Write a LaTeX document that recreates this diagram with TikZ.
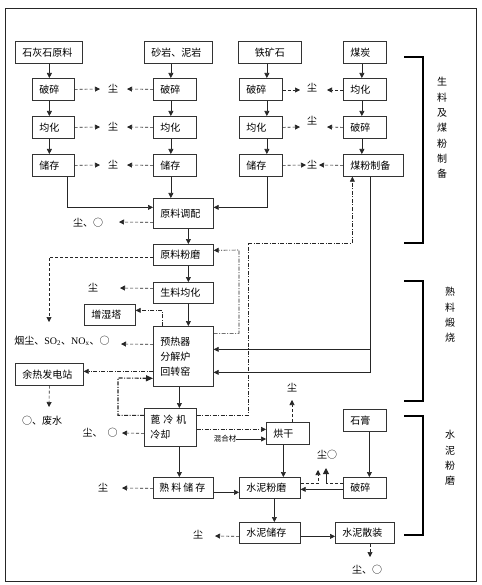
\documentclass[tikz,border=0pt]{standalone}
\usepackage{fontspec}
\setmainfont{Noto Sans CJK SC}
\newfontfamily\lat{Liberation Serif}
\usetikzlibrary{arrows.meta}
\begin{document}
\begin{tikzpicture}[x=1pt,y=-1pt,
 box/.style={draw=black!80, line width=0.7pt, inner xsep=7pt, inner ysep=0pt, anchor=north west, align=left, font=\fontsize{10}{15}\selectfont},
 cbox/.style={box, align=center},
 lbl/.style={inner sep=0pt, font=\fontsize{10}{12}\selectfont},
 vlbl/.style={inner sep=0pt, align=center, font=\fontsize{10}{15.3}\selectfont},
 con/.style={draw=black!85, line width=0.6pt},
 arr/.style={con, -{Triangle[length=5pt,width=5pt]}},
 dsh/.style={dash pattern=on 3pt off 2pt},
 dd/.style={dash pattern=on 4pt off 1.5pt on 1pt off 1.5pt},
 brk/.style={line width=1.8pt, draw=black}
]
\useasboundingbox (0,0) rectangle (481,585);
\fill[white] (0,0) rectangle (481,585);
\draw[line width=0.8pt, black!85] (5,8) rectangle (476,581);

% ---- row 1
\node[box, text width=53pt, minimum height=22pt] (raw1) at (15,41) {石灰石原料};
\node[box, text width=54pt, minimum height=22pt] (raw2) at (144,41) {砂岩、泥岩};
\node[cbox, text width=49pt, minimum height=22pt] (raw3) at (238,41) {铁矿石};
\node[box, text width=29pt, minimum height=22pt] (raw4) at (343,41) {煤炭};
% ---- row 2
\node[box, text width=28pt, minimum height=22pt] (a2) at (32,78) {破碎};
\node[box, text width=29pt, minimum height=22pt] (b2) at (153,78) {破碎};
\node[box, text width=29pt, minimum height=22pt] (c2) at (239,78) {破碎};
\node[box, text width=29pt, minimum height=22pt] (d2) at (343,78) {均化};
% ---- row 3
\node[box, text width=28pt, minimum height=22pt] (a3) at (32,116) {均化};
\node[box, text width=29pt, minimum height=22pt] (b3) at (153,116) {均化};
\node[box, text width=29pt, minimum height=22pt] (c3) at (239,116) {均化};
\node[box, text width=29pt, minimum height=22pt] (d3) at (343,116) {破碎};
% ---- row 4
\node[box, text width=28pt, minimum height=22pt] (a4) at (32,154) {储存};
\node[box, text width=29pt, minimum height=22pt] (b4) at (153,154) {储存};
\node[box, text width=29pt, minimum height=22pt] (c4) at (239,154) {储存};
\node[box, text width=46pt, minimum height=22pt] (d4) at (343,154) {煤粉制备};
% ---- main line
\node[box, text width=46pt, minimum height=30pt] (mix) at (153,198) {原料调配};
\node[box, text width=46pt, minimum height=21pt] (mill) at (153,244) {原料粉磨};
\node[box, text width=46pt, minimum height=21pt] (homo) at (153,282) {生料均化};
\node[box, text width=37pt, minimum height=21pt] (hum) at (84,304) {增湿塔};
\node[box, text width=46pt, minimum height=60pt] (kiln) at (153,326) {预热器\\分解炉\\回转窑};
\node[box, text width=54pt, minimum height=22pt] (whr) at (15,363) {余热发电站};
\node[box, inner xsep=6pt, text width=40pt, minimum height=38pt] (cool) at (144,408) {蓖\hspace{3pt}冷\hspace{3pt}机\\冷却};
\node[box, text width=29pt, minimum height=22pt] (dry) at (266,422) {烘干};
\node[box, text width=29pt, minimum height=22pt] (gyp) at (343,409) {石膏};
\node[box, inner xsep=6pt, text width=48pt, minimum height=21pt] (clst) at (153,477) {熟\hspace{2pt}料\hspace{2pt}储\hspace{2pt}存};
\node[box, text width=47pt, minimum height=21pt] (cmill) at (239,477) {水泥粉磨};
\node[box, text width=29pt, minimum height=21pt] (crush) at (343,477) {破碎};
\node[box, text width=47pt, minimum height=21pt] (cst) at (239,522) {水泥储存};
\node[box, text width=45pt, minimum height=21pt] (bulk) at (335,522) {水泥散装};

% ---- labels
\node[lbl] (s1) at (113,89) {尘};
\node[lbl] (s2) at (113,127) {尘};
\node[lbl] (s3) at (113,165) {尘};
\node[lbl] (s4) at (312,88) {尘};
\node[lbl] (s5) at (312,121) {尘};
\node[lbl] (s6) at (312,165) {尘};
\node[lbl] (smix) at (88,223) {尘、○};
\node[lbl] (shomo) at (93,288) {尘};
\node[lbl] (skiln) at (62,341) {烟尘、{\lat SO\textsubscript{2}}、{\lat NO\textsubscript{x}}、○};
\node[lbl] (swhr) at (42,421) {○、废水};
\node[lbl] (scool) at (100,433) {尘、\hspace{5pt}○};
\node[lbl] (sclst) at (103,488) {尘};
\node[lbl] (scst) at (198,535) {尘};
\node[lbl] (sdry) at (292,388) {尘};
\node[lbl] (scm) at (327,455) {尘○};
\node[lbl] (sbulk) at (367,570) {尘、○};
\node[lbl, font=\fontsize{7.5}{9}\selectfont] (mixm) at (225,439) {混合材};
\node[vlbl] (v1) at (442,128) {生\\料\\及\\煤\\粉\\制\\备};
\node[vlbl] (v2) at (450,315) {熟\\料\\煅\\烧};
\node[vlbl] (v3) at (450,458) {水\\泥\\粉\\磨};

% ---- brackets
\draw[brk] (404,57) -- (423,57) -- (423,243) -- (404,243);
\draw[brk] (404,281) -- (423,281) -- (423,401) -- (404,401);
\draw[brk] (404,416) -- (423,416) -- (423,535) -- (404,535);

% ---- free ends
\coordinate (tA1) at (100,89);  \coordinate (tB1) at (127,89);
\coordinate (tA2) at (100,127); \coordinate (tB2) at (127,127);
\coordinate (tA3) at (100,165); \coordinate (tB3) at (127,165);
\coordinate (tC1) at (300,90);  \coordinate (tD1) at (327,90);
\coordinate (tC2) at (300,127); \coordinate (tD2) at (327,127);
\coordinate (tC3) at (306,165); \coordinate (tD3) at (319,165);
\coordinate (tmix) at (119,222);
\coordinate (thomo) at (120,288);
\coordinate (tmill) at (49,322);
\coordinate (tkiln) at (121,344);
\coordinate (twhr) at (49,407);
\coordinate (tcool) at (122,433);
\coordinate (tclst) at (122,488);
\coordinate (tcst) at (215,536);
\coordinate (tdry) at (292,400);
\coordinate (tbulk) at (370,557);
\coordinate (tcm) at (318,470);
\coordinate (tcr) at (326,468);

% ---- column arrows
\coordinate (ca) at ([xshift=-4pt]a2.north);
\coordinate (cb) at ([xshift=-4pt]b2.north);
\coordinate (cc) at ([xshift=6pt]c2.north);
\coordinate (cd) at ([xshift=-3pt]d2.north);
\draw[arr] (raw1.south -| ca) -- (ca);
\draw[arr] (raw2.south -| cb) -- (cb);
\draw[arr] (raw3.south -| cc) -- (cc);
\draw[arr] (raw4.south -| cd) -- (cd);
\foreach \n/\s in {a/-4, b/-4, c/6, d/-3}{
  \draw[arr] ([xshift=\s pt]\n2.south) -- ([xshift=\s pt]\n3.north);
  \draw[arr] ([xshift=\s pt]\n3.south) -- ([xshift=\s pt]\n3.south |- \n4.north);
}

% ---- dust arrows top
\draw[arr,dsh] (a2.east) -- (tA1); \draw[arr,dsh] (b2.west) -- (tB1);
\draw[arr,dsh] (a3.east) -- (tA2); \draw[arr,dsh] (b3.west) -- (tB2);
\draw[arr,dsh] (a4.east) -- (tA3); \draw[arr,dsh] (b4.west) -- (tB3);
\draw[arr,dsh] (c2.east |- tC1) -- (tC1); \draw[arr,dsh] (d2.west |- tD1) -- (tD1);
\draw[arr,dsh] (c3.east) -- (tC2); \draw[arr,dsh] (d3.west) -- (tD2);
\draw[arr,dsh] (c4.east) -- (tC3); \draw[arr,dsh] (d4.west) -- (tD3);

% ---- into mix
\draw[arr] ([xshift=14pt]a4.south) |- ([yshift=6pt]mix.west);
\coordinate (mb) at ([xshift=-4pt]b4.south);
\draw[arr] (mb) -- (mb |- mix.north);
\draw[arr] ([xshift=6pt]c4.south) |- ([yshift=6pt]mix.east);

% ---- main line arrows
\coordinate (m1) at ([xshift=5pt]mix.south);
\draw[arr] (m1) -- (m1 |- mill.north);
\draw[arr] (m1 |- mill.south) -- (m1 |- homo.north);
\draw[arr] (m1 |- homo.south) -- (m1 |- kiln.north);
\coordinate (m2) at ([xshift=-4pt]kiln.south);
\draw[arr] (m2) -- (m2 |- cool.north);
\draw[arr] (m2 |- cool.south) -- (m2 |- clst.north);
\draw[arr] ([yshift=-4.5pt]clst.east) -- ([yshift=-4.5pt]clst.east -| cmill.west);

% ---- coal to kiln
\draw[arr] ([xshift=-3pt]d4.south) |- ([yshift=-16pt]kiln.east);
\draw[arr] ([xshift=-3pt]d4.south) |- ([yshift=7pt]kiln.east);

% ---- dash-dot loops
\draw[arr,dd] ([yshift=23pt]kiln.east) -| (239,250) -- ([yshift=4.5pt]mill.east);
\draw[arr,dd] ([yshift=12pt]cool.east) -| (248,243) -| ([xshift=-21pt]d4.south);
\draw[arr,dd] ([yshift=-2pt]cool.east) -- ([yshift=-2pt]cool.east -| dry.west);
\draw[arr,dd] ([xshift=-21pt]kiln.north) |- ([yshift=4.5pt]hum.east);
\draw[arr,dd] ([yshift=-15pt]kiln.west) -- ([yshift=-15pt]kiln.west -| whr.east);
\draw[con,dd,line width=1.1pt,-{Triangle[length=7pt,width=6pt]}] ([yshift=12pt]cool.west) -| (118,378) -- ([yshift=-22pt]kiln.west);
\draw[arr] (mixm.east) -- (mixm.east -| dry.west);

% ---- dust arrows main
\draw[arr,dsh] ([yshift=-9pt]mix.west) -- (tmix);
\draw[arr,dsh] ([yshift=-2.5pt]mill.west) -| (tmill);
\draw[arr,dsh] ([yshift=4.5pt]homo.west) -- (thomo);
\draw[arr,dsh] ([yshift=12pt]kiln.west) -- (tkiln);
\draw[arr,dsh] (whr.south) -- (twhr);
\draw[arr,dsh] ([yshift=-6pt]cool.west) -- (tcool);
\draw[arr,dsh] ([yshift=-0.5pt]clst.west) -- (tclst);
\draw[arr,dsh] ([yshift=-3.5pt]cst.west) -- (tcst);
\draw[arr,dsh] (dry.north -| tdry) -- (tdry);
\draw[arr,dsh] (bulk.south -| tbulk) -- (tbulk);

% ---- cement section
\coordinate (g1) at ([xshift=4.5pt]gyp.south);
\draw[arr] (g1) -- (g1 |- crush.north);
\coordinate (dr) at ([xshift=-4.5pt]dry.south);
\draw[arr] (dr) -- (dr |- cmill.north);
\draw[arr] ([yshift=-1.5pt]crush.west) -- ([yshift=-1.5pt]crush.west -| cmill.east);
\draw[arr,dsh] ([yshift=4.5pt]cmill.east) -| (tcm);
\draw[con,dsh] ([yshift=4.5pt]crush.west) -- ([yshift=4.5pt]crush.west -| tcr);
\draw[con,line width=1pt,-{Triangle[length=6pt,width=6pt]}] ([yshift=4.5pt]crush.west -| tcr) -- (tcr);
\coordinate (cm1) at ([xshift=4.5pt]cmill.south);
\draw[arr] (cm1) -- (cm1 |- cst.north);
\draw[arr] ([yshift=-3.5pt]cst.east) -- ([yshift=-3.5pt]cst.east -| bulk.west);
\end{tikzpicture}
\end{document}
